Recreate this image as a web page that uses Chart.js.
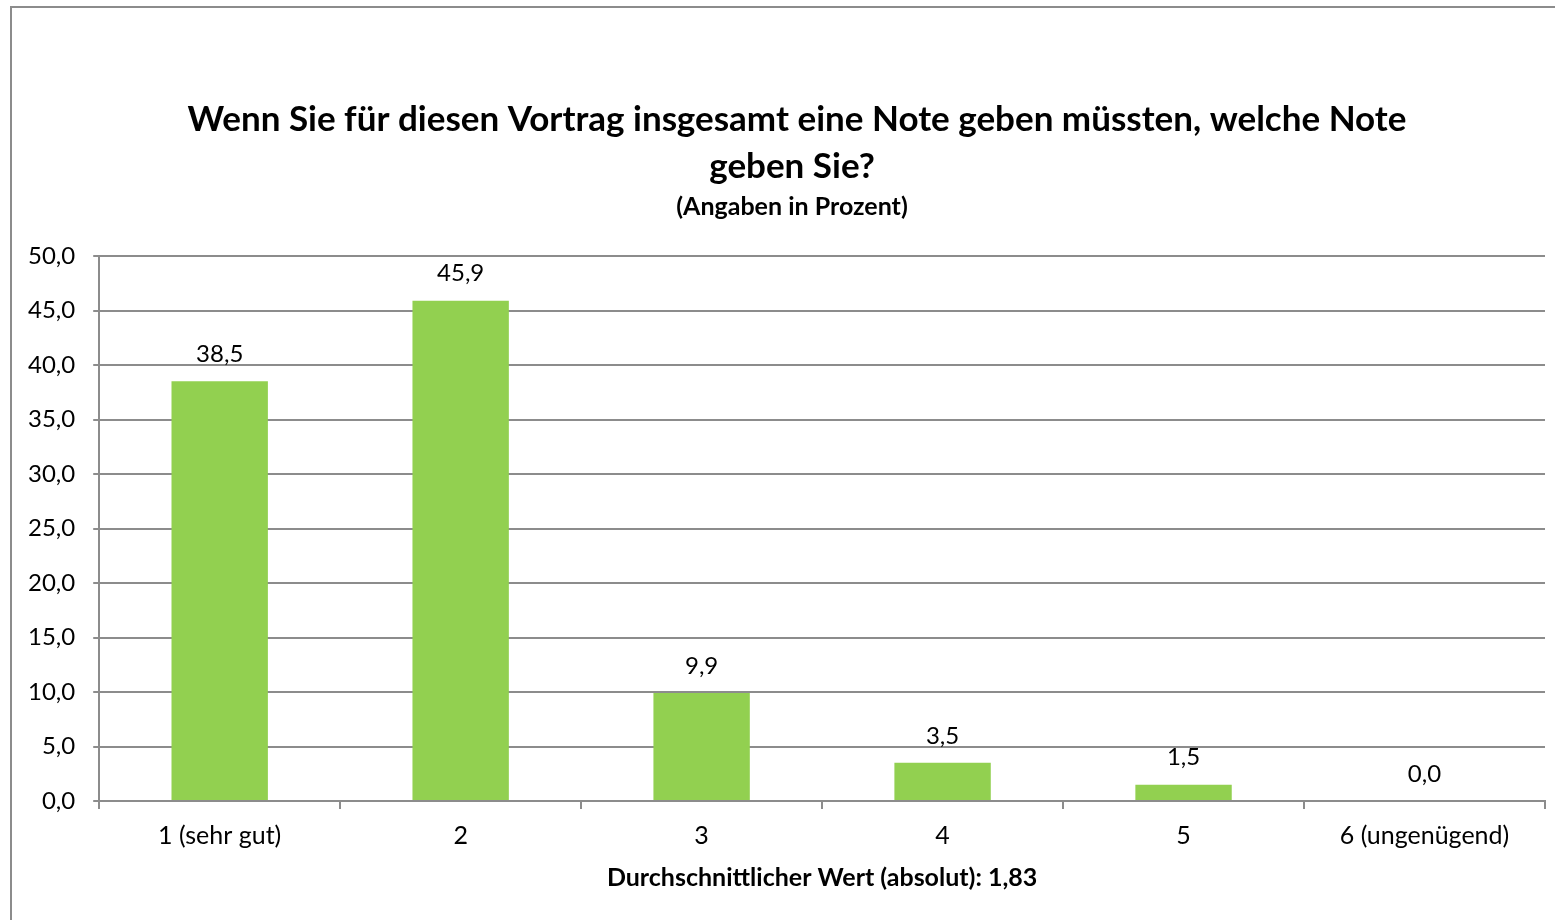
<!DOCTYPE html>
<html lang="de">
<head>
<meta charset="utf-8">
<title>Note für den Vortrag</title>
<script src="https://cdn.jsdelivr.net/npm/chart.js@4"></script>
<style>
    html, body { margin: 0; padding: 0; background: #fff; overflow: hidden; }
    #wrap { position: relative; width: 1555px; height: 920px; }
</style>
</head>
<body>
<div id="wrap"><canvas id="noteChart"></canvas></div>
<script>
const categories = ['1 (sehr gut)', '2', '3', '4', '5', '6 (ungenügend)'];
const percentValues = [38.5, 45.9, 9.9, 3.5, 1.5, 0.0];
const yTicks = [0, 5, 10, 15, 20, 25, 30, 35, 40, 45, 50];
const titleLines = ['Wenn Sie für diesen Vortrag insgesamt eine Note geben müssten, welche Note', 'geben Sie?'];
const subtitleText = '(Angaben in Prozent)';
const xAxisTitle = 'Durchschnittlicher Wert (absolut): 1,83';

const FONT = 'Lato, "Open Sans", sans-serif';
const GRAY = '#8c8c8c';

function fmt(v) {
    return Number(v).toFixed(1).replace('.', ',');
}

document.addEventListener('DOMContentLoaded', function() {
    const ctx = document.getElementById('noteChart').getContext('2d');

    // frame + heading, drawn by hand so the heading can sit off-centre like the original
    const framePlugin = {
        id: 'frame',
        beforeDraw: function(chart) {
            const c = chart.ctx;
            c.save();
            c.fillStyle = '#fff';
            c.fillRect(0, 0, chart.width, chart.height);
            c.strokeStyle = GRAY;
            c.lineWidth = 2;
            c.strokeRect(11, 7, chart.width + 40, chart.height + 40);
            c.fillStyle = '#000';
            c.textAlign = 'center';
            c.textBaseline = 'middle';
            c.font = 'bold 35px ' + FONT;
            c.fillText(titleLines[0], 797, 120);
            c.fillText(titleLines[1], 792, 167);
            c.font = 'bold 25px ' + FONT;
            c.fillText(subtitleText, 792, 207);
            c.restore();
        }
    };

    // value labels above the bars
    const valueLabels = {
        id: 'valueLabels',
        afterDatasetsDraw: function(chart) {
            const c = chart.ctx;
            const meta = chart.getDatasetMeta(0);
            c.save();
            c.fillStyle = '#000';
            c.font = '24px ' + FONT;
            c.textAlign = 'center';
            c.textBaseline = 'middle';
            meta.data.forEach(function(bar, i) {
                c.fillText(fmt(percentValues[i]), bar.x, bar.y - 27);
            });
            c.restore();
        }
    };

    new Chart(ctx, {
        type: 'bar',
        data: {
            labels: categories,
            datasets: [{
                data: percentValues,
                backgroundColor: '#92d050',
                borderWidth: 0,
                categoryPercentage: 1.0,
                barPercentage: 0.4
            }]
        },
        options: {
            responsive: true,
            maintainAspectRatio: false,
            animation: false,
            layout: {
                padding: { top: 256, left: 10, right: 10, bottom: 27 }
            },
            plugins: {
                legend: { display: false },
                tooltip: { enabled: false },
                title: { display: false }
            },
            scales: {
                x: {
                    grid: {
                        display: true,
                        drawOnChartArea: false,
                        drawTicks: true,
                        tickLength: 8,
                        color: GRAY,
                        lineWidth: 2
                    },
                    border: { display: true, color: GRAY, width: 2 },
                    ticks: {
                        color: '#000',
                        font: { family: FONT, size: 25 },
                        padding: 12
                    },
                    title: {
                        display: true,
                        text: xAxisTitle,
                        color: '#000',
                        font: { family: FONT, size: 25, weight: 'bold' },
                        padding: { top: 0, bottom: 0 }
                    }
                },
                y: {
                    min: 0,
                    max: 50,
                    afterBuildTicks: function(axis) {
                        axis.ticks = yTicks.map(function(v) { return { value: v }; });
                    },
                    grid: {
                        color: GRAY,
                        lineWidth: 2,
                        tickLength: 6
                    },
                    border: { display: true, color: GRAY, width: 2 },
                    ticks: {
                        color: '#000',
                        font: { family: FONT, size: 24 },
                        padding: 18,
                        callback: function(v) { return fmt(v); }
                    }
                }
            }
        },
        plugins: [framePlugin, valueLabels]
    });
});
</script>
</body>
</html>
